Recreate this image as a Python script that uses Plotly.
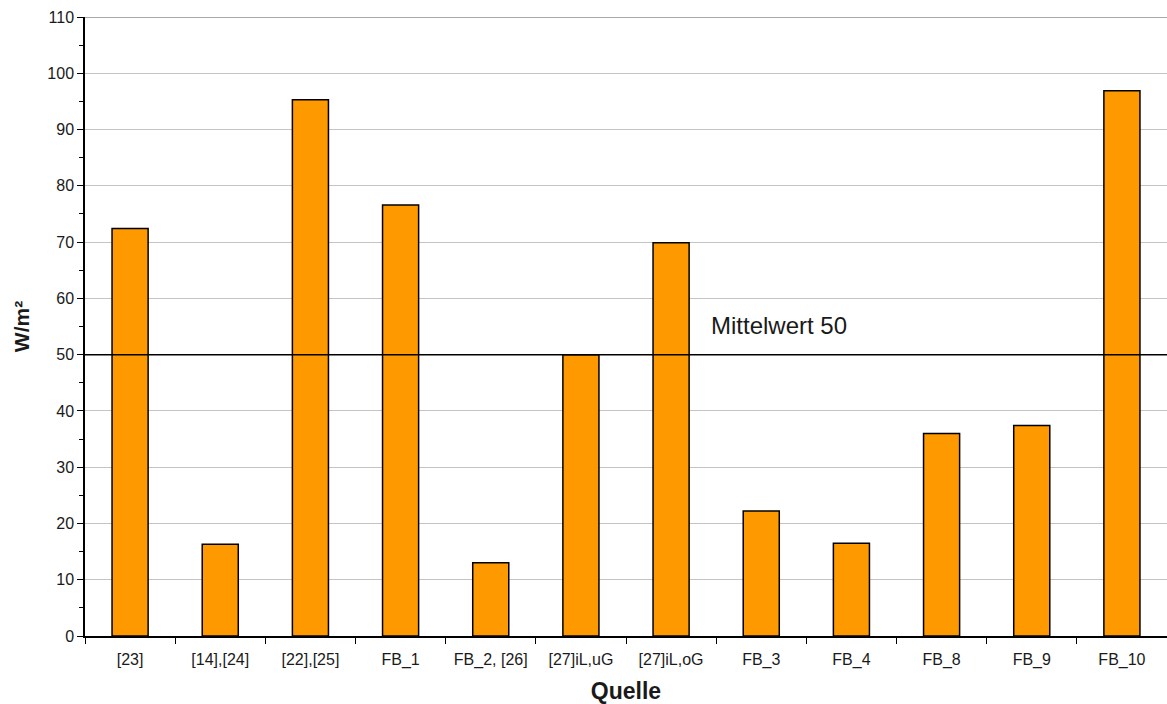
import plotly.graph_objects as go

# Heizlast je Quelle (W/m²)
quellen = ["[23]", "[14],[24]", "[22],[25]", "FB_1", "FB_2, [26]", "[27]iL,uG",
           "[27]iL,oG", "FB_3", "FB_4", "FB_8", "FB_9", "FB_10"]
werte = [72.4, 16.3, 95.3, 76.6, 13.0, 50.0, 69.9, 22.2, 16.5, 36.0, 37.4, 96.9]
mittelwert = 50
y_ticks = list(range(0, 111, 10))

font_family = "Liberation Sans, Arial, sans-serif"

fig = go.Figure()
fig.add_trace(go.Bar(
    x=quellen, y=werte, width=0.4,
    marker=dict(color="#FF9900", line=dict(color="#000000", width=1.5)),
    showlegend=False,
))

# Mittelwert-Linie und Beschriftung
fig.add_shape(type="line", xref="paper", yref="y", x0=0, x1=1, y0=mittelwert, y1=mittelwert,
              line=dict(color="#000000", width=1.5), layer="above")
fig.add_annotation(x=6.42, y=mittelwert + 2.5, xref="x", yref="y", text=f"Mittelwert {mittelwert}",
                   showarrow=False, xanchor="left", yanchor="bottom",
                   font=dict(family=font_family, size=24, color="#1a1a1a"))
# obere Begrenzung des Diagramms
fig.add_shape(type="line", xref="paper", yref="y", x0=0, x1=1, y0=110, y1=110,
              line=dict(color="#8c8c8c", width=1.5), layer="above")

fig.update_layout(
    width=1167, height=704,
    margin=dict(l=85, r=0, t=17, b=68),
    paper_bgcolor="white", plot_bgcolor="white",
    font=dict(family=font_family, color="#1a1a1a"),
    bargap=0.6,
)
fig.update_xaxes(
    type="category", tickson="boundaries", ticks="outside", ticklen=6, tickcolor="#000000",
    showline=True, linecolor="#000000", linewidth=1.5, showgrid=False,
    tickfont=dict(size=16), ticklabelstandoff=8, range=[-0.5, 11.5],
    title=dict(text="<b>Quelle</b>", font=dict(size=23), standoff=15),
)
fig.update_yaxes(
    range=[0, 110], tickvals=y_ticks, ticks="outside", ticklen=6, tickcolor="#000000",
    showline=True, linecolor="#000000", linewidth=1.5,
    showgrid=True, gridcolor="#c4c4c4", gridwidth=1, zeroline=False,
    minor=dict(dtick=5, tick0=0, ticks="outside", ticklen=4, tickcolor="#000000", showgrid=False),
    tickfont=dict(size=16),
    title=dict(text="<b>W/m²</b>", font=dict(size=21), standoff=12),
)

fig.write_html("out.html")
